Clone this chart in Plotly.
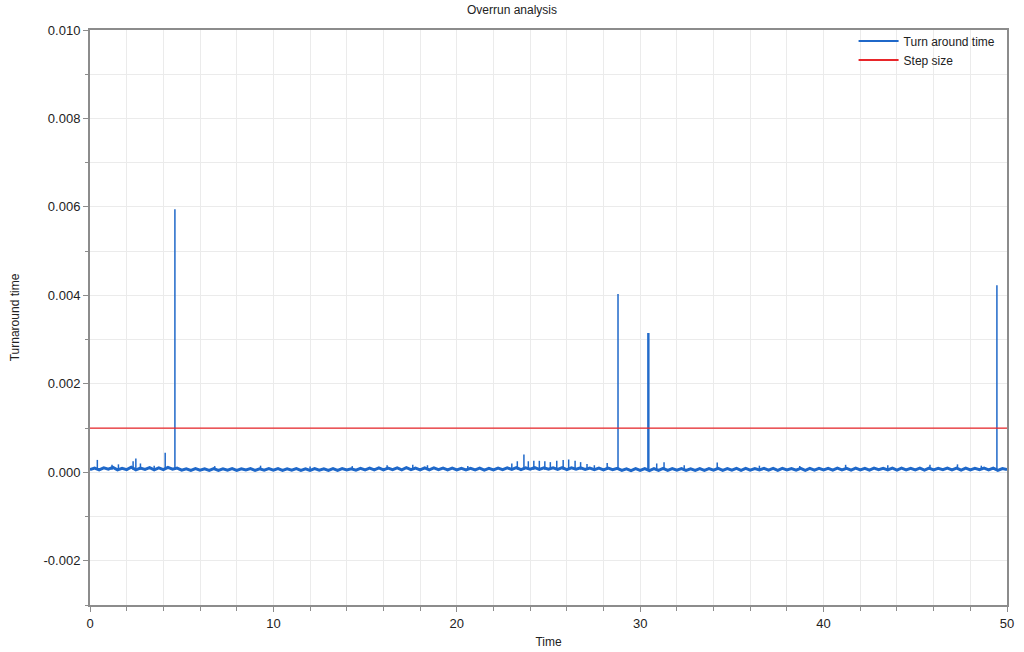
import numpy as np
import plotly.graph_objects as go

# Baseline turnaround samples (microseconds), one every 0.25 s from 0 to 50
sample_step = 0.25
base_us = [
    60,95,55,100,70,110,55,90,60,115,55,95,65,105,55,100,60,110,70,95,
    50,80,45,85,50,80,45,85,45,80,50,85,45,80,55,85,45,80,50,85,
    50,85,45,80,50,85,45,80,45,85,50,80,45,85,45,85,55,80,50,90,
    55,95,55,100,55,95,60,100,55,105,60,95,55,100,55,100,60,95,55,95,
    55,90,55,90,55,95,50,90,55,95,60,100,65,105,60,100,70,105,65,100,
    70,100,65,105,60,100,70,100,65,95,60,95,55,95,60,90,45,80,40,85,
    45,85,40,85,45,90,45,85,50,85,45,80,45,85,45,85,50,90,45,85,
    50,90,45,90,50,85,55,90,50,90,45,90,55,85,50,90,45,90,50,90,
    55,90,50,95,55,90,50,95,55,90,50,95,60,90,55,95,50,95,55,90,
    55,95,50,95,55,90,60,95,55,95,50,95,55,90,60,95,55,95,45,85,
    60,
]
sample_time = [round(i * sample_step, 2) for i in range(len(base_us))]

# Individual spikes (time in s, peak in microseconds)
spike_time = [0.40, 1.20, 1.55, 2.35, 2.50, 2.75, 3.50, 4.10, 4.63, 6.8, 9.3, 12.0,
              14.3, 16.2, 17.6, 18.4, 20.6, 23.0, 23.3, 23.66, 23.9, 24.2, 24.5,
              24.8, 25.1, 25.45, 25.8, 26.1, 26.45, 26.75, 27.1, 27.5, 28.2, 28.79,
              30.42, 30.47, 30.9, 31.3, 32.4, 34.2, 36.5, 38.7, 41.2, 43.5, 45.8,
              47.3, 48.6, 49.45]
spike_us = [280, 170, 180, 250, 310, 200, 150, 440, 5950, 140, 150, 130,
            140, 160, 170, 160, 140, 200, 250, 400, 250, 260, 260,
            250, 230, 260, 280, 290, 260, 230, 190, 160, 210, 4030,
            3150, 3150, 200, 230, 160, 220, 150, 140, 170, 160, 170,
            180, 150, 4230]
spike_floor_us = 60

step_time = [0, 50]
step_size = [0.001, 0.001]

y_tick_values = [-0.002, 0.0, 0.002, 0.004, 0.006, 0.008, 0.010]
y_tick_labels = ["-0.002", "0.000", "0.002", "0.004", "0.006", "0.008", "0.010"]

blue = "#1f68c9"
red = "#e8262a"

fig = go.Figure()
fig.add_trace(go.Scatter(
    x=sample_time, y=[v * 1e-6 for v in base_us], mode="lines",
    line=dict(color=blue, width=3), name="Turn around time",
    legendgroup="tat", showlegend=False,
))
sx, sy = [], []
for t, p in zip(spike_time, spike_us):
    sx += [t, t, None]
    sy += [spike_floor_us * 1e-6, p * 1e-6, None]
fig.add_trace(go.Scatter(
    x=sx, y=sy, mode="lines", line=dict(color=blue, width=1.5),
    showlegend=False, legendgroup="tat", hoverinfo="skip",
))
fig.add_trace(go.Scatter(
    x=step_time, y=step_size, mode="lines",
    line=dict(color=red, width=1.2), name="Step size",
    showlegend=False, legendgroup="step",
))
# legend entries
fig.add_trace(go.Scatter(
    x=[None], y=[None], mode="lines", line=dict(color=blue, width=2),
    name="Turn around time", legendgroup="tat",
))
fig.add_trace(go.Scatter(
    x=[None], y=[None], mode="lines", line=dict(color=red, width=2),
    name="Step size", legendgroup="step",
))

font = "Arial, Liberation Sans, sans-serif"
fig.update_layout(
    width=1024, height=652,
    margin=dict(l=90, r=17, t=30, b=47, autoexpand=False),
    paper_bgcolor="white", plot_bgcolor="white",
    font=dict(family=font, size=12, color="#222222"),
    title=dict(text="Overrun analysis", x=0.5, xanchor="center",
               y=0.992, yanchor="top", font=dict(size=12, color="#222222")),
    legend=dict(x=0.993, xanchor="right", y=1.006, yanchor="top",
                bgcolor="rgba(0,0,0,0)", font=dict(size=12, color="#222222"),
                itemwidth=40, tracegroupgap=0, traceorder="normal"),
    showlegend=True,
)
fig.update_xaxes(
    range=[0, 50], tickmode="linear", tick0=0, dtick=10, automargin=False,
    showline=True, linecolor="#8c8c8c", linewidth=2, mirror=True,
    ticks="outside", ticklen=5, tickcolor="#8c8c8c",
    showgrid=True, gridcolor="#ebebeb", gridwidth=1,
    minor=dict(dtick=2, tick0=0, showgrid=True, gridcolor="#ebebeb",
               ticks="outside", ticklen=4, tickcolor="#8c8c8c"),
    zeroline=False,
    title=dict(text="Time", font=dict(size=12), standoff=8),
    tickfont=dict(size=13),
)
fig.update_yaxes(
    range=[-0.003, 0.010], tickmode="array", tickvals=y_tick_values,
    ticktext=y_tick_labels, automargin=False,
    showline=True, linecolor="#8c8c8c", linewidth=2, mirror=True,
    ticks="outside", ticklen=5, tickcolor="#8c8c8c",
    showgrid=True, gridcolor="#ebebeb", gridwidth=1,
    minor=dict(dtick=0.001, tick0=0, showgrid=True, gridcolor="#ebebeb",
               ticks="outside", ticklen=3, tickcolor="#8c8c8c"),
    zeroline=False,
    title=dict(text="Turnaround time", font=dict(size=12), standoff=21),
    tickfont=dict(size=13),
)

fig.write_html("out.html")
